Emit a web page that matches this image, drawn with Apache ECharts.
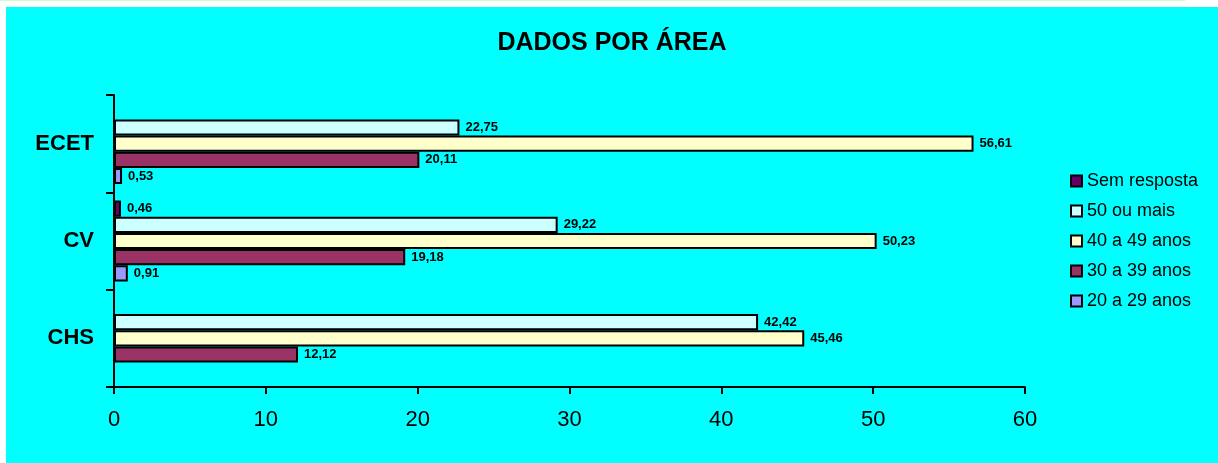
<!DOCTYPE html>
<html>
<head>
<meta charset="utf-8">
<title>DADOS POR ÁREA</title>
<script src="https://cdn.jsdelivr.net/npm/echarts@6/dist/echarts.min.js"></script>
<style>
    html, body { margin: 0; padding: 0; background: #ffffff; }
    #top_line { position: absolute; left: 0; top: 0; width: 1185px; height: 1px; background: #ccffcc; }
    #dados_por_area { position: absolute; left: 6px; top: 7px; width: 1212px; height: 456px; }
</style>
</head>
<body>
<div id="top_line"></div>
<div id="dados_por_area"></div>
<script>
// categorias, de baixo para cima
var categories = ['CHS', 'CV', 'ECET'];
var xTicks = [0, 10, 20, 30, 40, 50, 60];

// valores por faixa etária ('-' = sem barra)
var semResposta = ['-', 0.46, '-'];
var cinquentaOuMais = [42.42, 29.22, 22.75];
var quarentaA49 = [45.46, 50.23, 56.61];
var trintaA39 = [12.12, 19.18, 20.11];
var vinteA29 = ['-', 0.91, 0.53];

var seriesNames = ['Sem resposta', '50 ou mais', '40 a 49 anos', '30 a 39 anos', '20 a 29 anos'];
var seriesData = [semResposta, cinquentaOuMais, quarentaA49, trintaA39, vinteA29];
var seriesColors = ['#660066', '#ccffff', '#ffffcc', '#993366', '#9999ff'];

var FONT = "'Liberation Sans', Arial, sans-serif";

window.onload = function () {
    dados_por_area_chart();
};

/**
 * gráfico de barras horizontais por área
 */
function dados_por_area_chart() {
    var myChart = echarts.init(document.getElementById('dados_por_area'), null, {renderer: 'canvas'});
    var series = [];
    for (var i = 0; i < seriesNames.length; i++) {
        series.push({
            name: seriesNames[i],
            type: 'bar',
            data: seriesData[i],
            barGap: '0%',
            barCategoryGap: '17%',
            itemStyle: {
                color: seriesColors[i],
                borderColor: '#000000',
                borderWidth: 2
            },
            label: {
                show: true,
                position: 'right',
                distance: 6,
                color: '#000000',
                fontFamily: FONT,
                fontWeight: 'bold',
                fontSize: 13,
                formatter: function (p) {
                    return Number(p.value).toFixed(2).replace('.', ',');
                }
            },
            emphasis: {disabled: true}
        });
    }
    var option = null;
    option = {
        backgroundColor: '#00ffff',
        animation: false,
        title: {
            text: 'DADOS POR ÁREA',
            left: 'center',
            top: 19,
            textStyle: {
                fontFamily: FONT,
                fontWeight: 'bold',
                fontSize: 25,
                color: '#000000'
            }
        },
        legend: {
            orient: 'vertical',
            left: 1064,
            top: 165,
            padding: 0,
            itemWidth: 11,
            itemHeight: 11,
            itemGap: 12,
            icon: 'rect',
            data: seriesNames,
            itemStyle: {borderColor: '#000000', borderWidth: 2},
            textStyle: {
                fontFamily: FONT,
                fontSize: 18,
                color: '#000000'
            }
        },
        grid: {
            left: 108,
            right: 193,
            top: 88,
            bottom: 76,
            containLabel: false
        },
        xAxis: {
            type: 'value',
            min: xTicks[0],
            max: xTicks[xTicks.length - 1],
            interval: xTicks[1] - xTicks[0],
            splitLine: {show: false},
            axisLine: {show: true, lineStyle: {color: '#000000', width: 2}},
            axisTick: {show: true, length: 7, lineStyle: {color: '#000000', width: 2}},
            axisLabel: {
                margin: 22,
                color: '#000000',
                fontFamily: FONT,
                fontSize: 22
            }
        },
        yAxis: {
            type: 'category',
            data: categories,
            axisLine: {show: true, lineStyle: {color: '#000000', width: 2}},
            axisTick: {show: true, length: 8, lineStyle: {color: '#000000', width: 2}},
            axisLabel: {
                margin: 20,
                color: '#000000',
                fontFamily: FONT,
                fontWeight: 'bold',
                fontSize: 22
            }
        },
        series: series
    };
    if (option && typeof option === "object") {
        myChart.setOption(option, true);
    }
    window.addEventListener('resize', function () {
        myChart.resize();
    });
}
</script>
</body>
</html>
